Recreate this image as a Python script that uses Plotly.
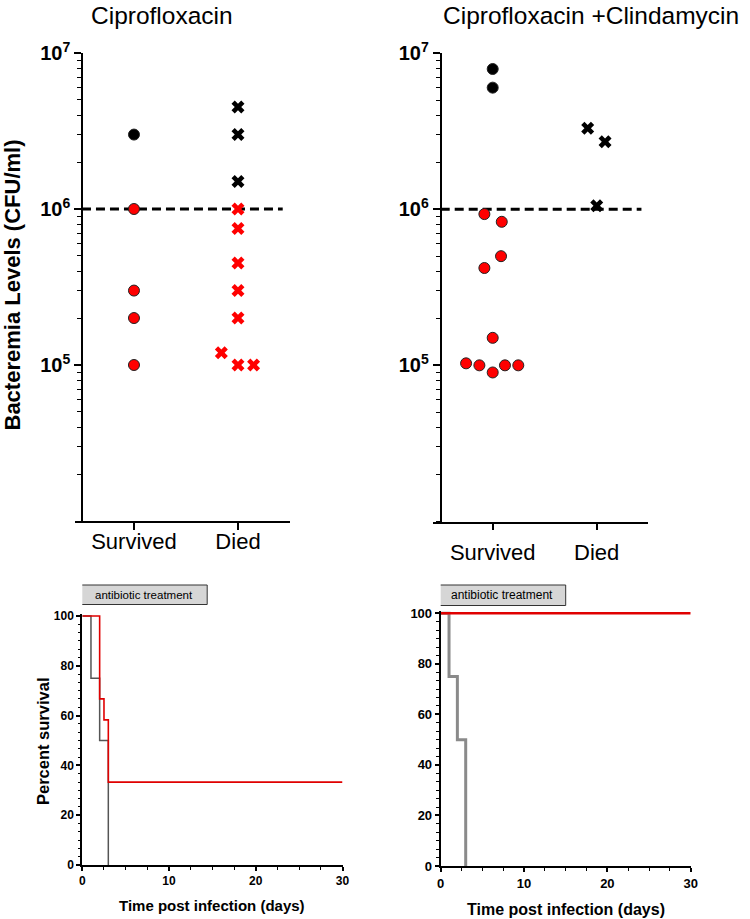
import plotly.graph_objects as go

# ---------------- data ----------------
categories = ["Survived", "Died"]
threshold = 1e6

# Ciprofloxacin: bacteremia (CFU/ml)
cip_surv_high = [3.0e6]
cip_surv_low = [1.0e6, 3.0e5, 2.0e5, 1.0e5]
cip_died_high = [4.5e6, 3.0e6, 1.5e6]
cip_died_low = [1.0e6, 7.5e5, 4.5e5, 3.0e5, 2.0e5, 1.2e5, 1.0e5, 1.0e5]

# Ciprofloxacin + Clindamycin: bacteremia (CFU/ml)
cc_surv_high = [7.9e6, 6.0e6]
cc_surv_low = [9.3e5, 8.3e5, 5.0e5, 4.2e5, 1.5e5, 1.03e5, 1.0e5, 9.0e4, 1.0e5, 1.0e5]
cc_died_high = [3.3e6, 2.7e6, 1.05e6]

# Survival curves (days, percent survival)
cip_ctrl_days = [0, 1, 2, 3]
cip_ctrl_surv = [100, 75, 50, 0]
cip_trt_days = [0, 2, 2.5, 3, 30]
cip_trt_surv = [100, 66.7, 58.3, 33.3, 33.3]
cc_ctrl_days = [0, 1, 2, 3]
cc_ctrl_surv = [100, 75, 50, 0]
cc_trt_days = [0, 30]
cc_trt_surv = [100, 100]

treatment_cip = (0, 14.4)
treatment_cc = (0, 15.0)

# swarm offsets (category units) for overlapping points
cip_died_low_jit = [0, 0, 0, 0, 0, -0.16, 0, 0.15]
cc_surv_low_jit = [-0.08, 0.087, 0.08, -0.08, 0, -0.256, -0.128, 0, 0.118, 0.246]
cc_died_high_jit = [-0.087, 0.08, 0]

# ---------------- helpers ----------------
W, H = 750, 919
FONT = "Liberation Sans, Arial, sans-serif"
RED = "#ff0000"
def fx(p): return p / W
def fy(p): return 1 - p / H

fig = go.Figure()

def pts(cat_idx, vals, jit=None):
    jit = jit or [0] * len(vals)
    return [cat_idx + j for j in jit], vals

def circles(xa, ya, cat, vals, color, jit=None):
    x, y = pts(cat, vals, jit)
    fig.add_trace(go.Scatter(x=x, y=y, mode="markers", xaxis=xa, yaxis=ya,
                             marker=dict(symbol="circle", size=11, color=color,
                                         line=dict(color="#222", width=1)),
                             showlegend=False, cliponaxis=False))

def crosses(xa, ya, cat, vals, color, jit=None):
    x, y = pts(cat, vals, jit)
    fig.add_trace(go.Scatter(x=x, y=y, mode="markers", xaxis=xa, yaxis=ya,
                             marker=dict(symbol="x", size=11.5, color=color,
                                         line=dict(width=0)),
                             showlegend=False, cliponaxis=False))

def dashed(xa, ya):
    fig.add_trace(go.Scatter(x=[-0.5, 1.43], y=[threshold, threshold], mode="lines",
                             xaxis=xa, yaxis=ya,
                             line=dict(color="black", width=3, dash="9px,5px"),
                             showlegend=False, hoverinfo="skip"))

# Top left
dashed("x", "y")
circles("x", "y", 0, cip_surv_high, "black")
circles("x", "y", 0, cip_surv_low, RED)
crosses("x", "y", 1, cip_died_high, "black")
crosses("x", "y", 1, cip_died_low, RED, cip_died_low_jit)

# Top right
dashed("x2", "y2")
circles("x2", "y2", 0, cc_surv_high, "black")
circles("x2", "y2", 0, cc_surv_low, RED, cc_surv_low_jit)
crosses("x2", "y2", 1, cc_died_high, "black", cc_died_high_jit)

# Bottom left
fig.add_trace(go.Scatter(x=cip_ctrl_days, y=cip_ctrl_surv, mode="lines", line_shape="hv",
                         xaxis="x3", yaxis="y3", line=dict(color="#555555", width=1.5),
                         showlegend=False))
fig.add_trace(go.Scatter(x=cip_trt_days, y=cip_trt_surv, mode="lines", line_shape="hv",
                         xaxis="x3", yaxis="y3", line=dict(color="#e00000", width=1.6),
                         showlegend=False))
# Bottom right
fig.add_trace(go.Scatter(x=cc_ctrl_days, y=cc_ctrl_surv, mode="lines", line_shape="hv",
                         xaxis="x4", yaxis="y4", line=dict(color="#8a8a8a", width=3),
                         showlegend=False))
fig.add_trace(go.Scatter(x=cc_trt_days, y=cc_trt_surv, mode="lines", line_shape="hv",
                         xaxis="x4", yaxis="y4", line=dict(color="#e00000", width=2.5),
                         showlegend=False))

axcommon = dict(showgrid=False, zeroline=False, showline=True, linecolor="black",
                ticks="outside", tickcolor="black", automargin=False)

logy = dict(type="log", range=[4, 7], tickvals=[1e5, 1e6, 1e7],
            ticktext=["10<sup>5</sup>", "10<sup>6</sup>", "10<sup>7</sup>"],
            tickfont=dict(family=FONT, size=20, color="black", weight="bold"),
            ticklen=7, tickwidth=1.5, linewidth=1.5, anchor="free",
            minor=dict(ticks="outside", dtick="D1", ticklen=4, tickwidth=1.2,
                       tickcolor="black", showgrid=False))

catx = dict(tickvals=[0, 1], ticktext=categories, ticklen=7, tickwidth=1.5, linewidth=1.5,
            tickfont=dict(family=FONT, size=22, color="black"))

survy = dict(range=[0, 101], tickvals=[0, 20, 40, 60, 80, 100], ticklen=4, tickwidth=1.5,
             linewidth=2, minor=dict(ticks="outside", dtick=20 / 6, tick0=0, ticklen=2.5,
                                     tickwidth=1.2, tickcolor="black", showgrid=False))
survx = dict(range=[0, 30], tickvals=[0, 10, 20, 30], ticklen=4, tickwidth=1.5,
             linewidth=2, minor=dict(ticks="outside", dtick=2.5, ticklen=2.5,
                                     tickwidth=1.2, tickcolor="black", showgrid=False))

fig.update_layout(
    width=W, height=H, margin=dict(l=0, r=0, t=0, b=0, pad=0, autoexpand=False),
    paper_bgcolor="white", plot_bgcolor="white", showlegend=False,
    font=dict(family=FONT, color="black"),
    xaxis=dict(**axcommon, **catx, domain=[fx(75), fx(290)], range=[-0.567, 1.5], anchor="y",
               ticklabelstandoff=-7),
    yaxis=dict(**axcommon, **logy, domain=[fy(521), fy(53)], position=fx(82)),
    xaxis2=dict(**axcommon, **catx, domain=[fx(433), fx(648)], range=[-0.574, 1.493],
                anchor="y2", ticklabelstandoff=3),
    yaxis2=dict(**axcommon, **logy, domain=[fy(521.5), fy(53)], position=fx(440.5)),
    xaxis3=dict(**axcommon, **survx, domain=[fx(82.3), fx(342.5)], anchor="y3",
                tickfont=dict(family=FONT, size=12, color="black", weight="bold")),
    yaxis3=dict(**axcommon, **survy, domain=[fy(865), fy(613.5)], anchor="x3",
                tickfont=dict(family=FONT, size=12, color="black", weight="bold")),
    xaxis4=dict(**axcommon, **survx, domain=[fx(440.7), fx(690.7)], anchor="y4",
                tickfont=dict(family=FONT, size=13, color="black", weight="bold")),
    yaxis4=dict(**axcommon, **survy, domain=[fy(866), fy(610.8)], anchor="x4",
                tickfont=dict(family=FONT, size=13, color="black", weight="bold")),
)

# treatment boxes
for xa, (t0, t1), y0, y1, fs in [("x3", treatment_cip, 585, 604.5, 11.5),
                                  ("x4", treatment_cc, 585, 605.5, 12)]:
    fig.add_shape(type="rect", xref=xa, yref="paper", x0=t0 - 0.25, x1=t1,
                  y0=fy(y1), y1=fy(y0), fillcolor="#d6d6d6",
                  line=dict(color="#333", width=1))
    fig.add_annotation(xref=xa, yref="paper", x=(t0 - 0.25 + t1) / 2, y=fy((y0 + y1) / 2),
                       text="antibiotic treatment", showarrow=False,
                       font=dict(family=FONT, size=fs, color="black"),
                       xanchor="center", yanchor="middle")

def ann(x, y, text, size, bold=False, angle=0, yanchor="middle"):
    fig.add_annotation(xref="paper", yref="paper", x=fx(x), y=fy(y), text=text,
                       showarrow=False, textangle=angle, xanchor="center", yanchor=yanchor,
                       font=dict(family=FONT, size=size, color="black",
                                 weight="bold" if bold else "normal"))

ann(162, 0, "Ciprofloxacin", 24.5, yanchor="top")
ann(591, 0, "Ciprofloxacin +Clindamycin", 24.5, yanchor="top")
ann(12.5, 285, "Bacteremia Levels (CFU/ml)", 22, bold=True, angle=-90)
ann(43, 741, "Percent survival", 16.5, bold=True, angle=-90)
ann(212, 905, "Time post infection (days)", 15, bold=True)
ann(566, 909, "Time post infection (days)", 16, bold=True)

fig.write_html("out.html", config={"displayModeBar": False},
               post_script="document.body.style.margin='0';document.body.style.padding='0';")
